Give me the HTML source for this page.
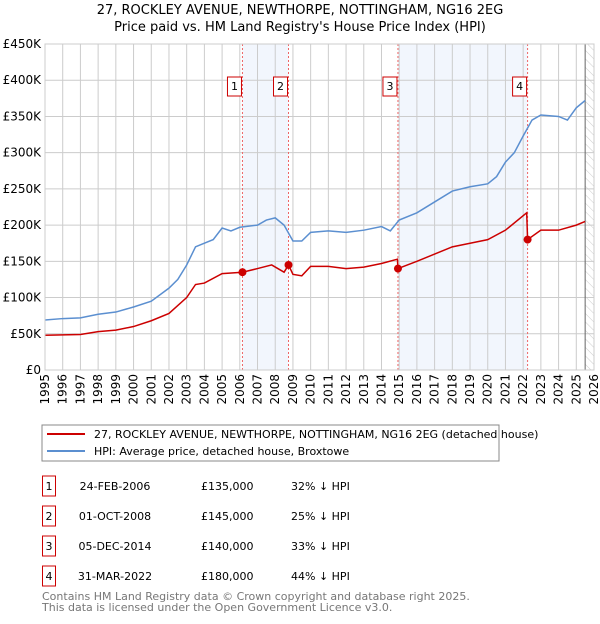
<!DOCTYPE html>
<html><head><meta charset="utf-8"><style>
body{margin:0;background:#fff;font-family:"DejaVu Sans","Liberation Sans",sans-serif;}
svg text{font-family:"DejaVu Sans","Liberation Sans",sans-serif;}
</style></head><body>
<svg id="c" width="600" height="620" xmlns="http://www.w3.org/2000/svg">
<defs><pattern id="hatch" width="6" height="6" patternUnits="userSpaceOnUse" patternTransform="rotate(-45)"><line x1="0" y1="0" x2="0" y2="6" stroke="#ccc" stroke-width="1"/></pattern></defs>
<text x="300" y="14" text-anchor="middle" font-size="13">27, ROCKLEY AVENUE, NEWTHORPE, NOTTINGHAM, NG16 2EG</text>
<text x="300" y="31" text-anchor="middle" font-size="13">Price paid vs. HM Land Registry's House Price Index (HPI)</text>
<g id="plot"></g>
<rect x="42" y="425" width="457" height="36" fill="#fff" stroke="#888"/>
<line x1="47" y1="434" x2="85" y2="434" stroke="#cc0000" stroke-width="2"/>
<text x="94" y="438" font-size="11">27, ROCKLEY AVENUE, NEWTHORPE, NOTTINGHAM, NG16 2EG (detached house)</text>
<line x1="47" y1="451" x2="85" y2="451" stroke="#5b8fd0" stroke-width="2"/>
<text x="94" y="455" font-size="11">HPI: Average price, detached house, Broxtowe</text>
<g id="table" font-size="11"></g>
<text x="42" y="600" font-size="11" fill="#777">Contains HM Land Registry data © Crown copyright and database right 2025.</text>
<text x="42" y="611" font-size="11" fill="#777">This data is licensed under the Open Government Licence v3.0.</text>
</svg>
<script>
const hpiYears=[1995,1996,1997,1998,1999,2000,2001,2002,2002.5,2003,2003.5,2004,2004.5,2005,2005.5,2006,2007,2007.5,2008,2008.5,2009,2009.5,2010,2011,2012,2013,2014,2014.5,2015,2016,2017,2018,2019,2020,2020.5,2021,2021.5,2022,2022.5,2023,2024,2024.5,2025,2025.5];
const hpiValues=[69,71,72,77,80,87,95,113,125,145,170,175,180,196,192,197,200,207,210,200,178,178,190,192,190,193,198,192,207,217,232,247,253,257,267,287,300,323,345,352,350,345,362,372];
const ppYears=[1995,1997,1998,1999,2000,2001,2002,2003,2003.5,2004,2005,2006.15,2007,2007.8,2008.5,2008.75,2009,2009.5,2010,2011,2012,2013,2014,2014.9,2014.93,2016,2017,2018,2019,2020,2021,2022.2,2022.25,2023,2024,2025,2025.5];
const ppValues=[48,49,53,55,60,68,78,100,118,120,133,135,140,145,135,145,132,130,143,143,140,142,147,153,140,150,160,170,175,180,193,217,180,193,193,200,205];
const saleYears=[2006.15,2008.75,2014.93,2022.25];
const saleValues=[135,145,140,180];
const saleLabels=["1","2","3","4"];
const saleDates=["24-FEB-2006","01-OCT-2008","05-DEC-2014","31-MAR-2022"];
const salePrices=["£135,000","£145,000","£140,000","£180,000"];
const saleDiffs=["32% ↓ HPI","25% ↓ HPI","33% ↓ HPI","44% ↓ HPI"];
const yTicks=[0,50,100,150,200,250,300,350,400,450];
const yTickLabels=["£0","£50K","£100K","£150K","£200K","£250K","£300K","£350K","£400K","£450K"];
const L=45,R=594,T=44,B=370;
const x=y=>L+(y-1995)*(R-L)/31;
const yS=v=>B-v*(B-T)/450;
const NS="http://www.w3.org/2000/svg";
const g=document.getElementById('plot');
function el(t,a,p){const e=document.createElementNS(NS,t);for(const k in a)e.setAttribute(k,a[k]);(p||g).appendChild(e);return e;}
for(const [a,b] of [[0,1],[2,3]]){
 const r=el('rect',{x:x(saleYears[a]),y:T,width:x(saleYears[b])-x(saleYears[a]),height:B-T,fill:'#f2f6fd'});
 
 
}
const h=el('rect',{x:x(2025.5),y:T,width:R-x(2025.5),height:B-T,fill:'url(#hatch)'});


for(let yr=1995;yr<=2026;yr++){
 const l=el('line',{x1:x(yr),x2:x(yr),y1:T,y2:B,stroke:'#ccc'});
 
 
 const t=el('text',{x:0,y:0,'font-size':12,'text-anchor':'end',transform:`translate(${x(yr)+4},${B+4}) rotate(-90)`});
 t.textContent=yr;
 
 
}
yTicks.forEach((v,i)=>{
 const l=el('line',{x1:L,x2:R,y1:yS(v),y2:yS(v),stroke:'#ccc'});
 
 
 const t=el('text',{x:L-4,y:yS(v)+4,'font-size':12,'text-anchor':'end'});
 t.textContent=yTickLabels[i];
 
 
});
const vline=el('line',{x1:x(2025.5),x2:x(2025.5),y1:T,y2:B,stroke:'#666'});


saleYears.forEach((s,i)=>{
 const l=el('line',{x1:x(s),x2:x(s),y1:T,y2:B,stroke:'#e66','stroke-dasharray':'2,2'});
 
 
});
const hp=el('polyline',{points:hpiYears.map((yr,i)=>x(yr)+','+yS(hpiValues[i])).join(' '),fill:'none',stroke:'#5b8fd0','stroke-width':1.5});


const pp=el('polyline',{points:ppYears.map((yr,i)=>x(yr)+','+yS(ppValues[i])).join(' '),fill:'none',stroke:'#cc0000','stroke-width':1.5});


saleYears.forEach((s,i)=>{
 const c=el('circle',{cx:x(s),cy:yS(saleValues[i]),r:4,fill:'#cc0000'});
 
 
 const bx=x(s)-15;
 const r=el('rect',{x:bx,y:77,width:14,height:19,fill:'#fff',stroke:'#cc0000'});
 
 
 const t=el('text',{x:bx+7,y:90,'font-size':11,'text-anchor':'middle'});
 t.textContent=saleLabels[i];
 
 
});
const frame=el('rect',{x:L,y:T,width:R-L,height:B-T,fill:'none',stroke:'#ccc'});


const tb=document.getElementById('table');
saleLabels.forEach((lab,i)=>{
 const cy=486+i*30;
 const r=el('rect',{x:42.5,y:cy-10,width:13,height:20,fill:'#fff',stroke:'#cc0000'},tb);
 
 
 const cols=[[49,lab,'middle'],[115,saleDates[i],'middle'],[201,salePrices[i],'start'],[291,saleDiffs[i],'start']];
 cols.forEach(([cx,tx,an])=>{
  const t=el('text',{x:cx,y:cy+4,'text-anchor':an},tb);
  t.textContent=tx;
  
  
 });
});
</script>
</body></html>
